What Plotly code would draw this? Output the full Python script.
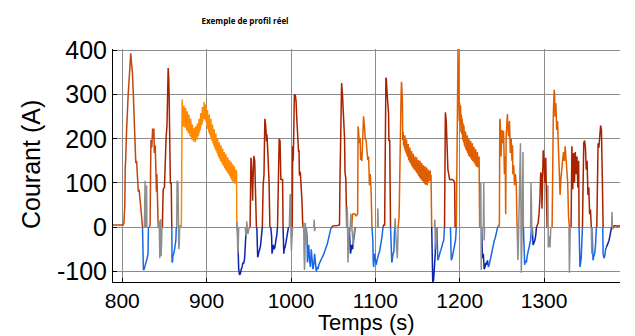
import plotly.graph_objects as go

# ---- data (time in s, current in A) ----
x_ticks = [800, 900, 1000, 1100, 1200, 1300]
y_ticks = [-100, 0, 100, 200, 300, 400]
y_tick_text = ["-100", "0", "100", "200", "300", "400"]

rust_segments = [
    [(789, 5), (795, 5), (801, 5), (802, 10), (803, 50), (803.5, 135), (804, 150), (805, 215), (806, 283),
     (807, 300), (808, 330), (809, 385), (810, 393), (811, 370), (812, 350), (813, 305), (814, 240), (815, 200),
     (816, 145), (817, 150), (818, 110), (819, 80), (820, 85), (821, 60), (822, 30), (823, 10), (824, 0)],
    [(832, 0), (833, 5), (833.5, 120), (834, 197), (835, 180), (836, 223), (837, 200), (837.5, 223), (838, 168),
     (839, 185), (840, 120), (840.5, 80), (841, 120), (842, 60), (842.6, 0)],
]

red_segments = [
    [(847.5, 0), (848, 30), (848.5, 86), (850, 90), (851, 168), (852, 205), (853, 230), (853.8, 300), (854.4, 360),
     (855, 340), (855.5, 300), (856, 230), (856.5, 150), (857, 100), (858, 100), (858.7, 0)],
    [(951.5, 0), (952, 100), (952.5, 157), (953, 150), (954, 100), (954.5, 60), (955, 110), (955.5, 157), (956, 161),
     (957, 150), (957.5, 100), (958, 60), (958.5, 30), (959, 0)],
    [(966, 0), (966.5, 80), (967, 95), (968, 119), (968.5, 200), (969, 245), (970, 230), (971, 194), (971.5, 210),
     (972, 170), (973, 150), (974, 100), (975, 0)],
    [(984, 0), (985, 100), (986, 200), (987, 195), (988, 108), (989, 108), (990, 108), (990.6, 0)],
    [(1001.5, 0), (1002, 183), (1002.5, 150), (1003, 183), (1003.5, 240), (1004, 300), (1004.5, 296), (1005, 300),
     (1006, 285), (1007, 240), (1008, 196), (1009, 170), (1009.5, 175), (1010, 117), (1011, 125), (1012, 100),
     (1013, 60), (1014, 0)],
    [(1048, 0), (1050, 3), (1055, 4), (1057.5, 5), (1058, 100), (1059, 200), (1059.5, 300), (1060, 326), (1061, 300),
     (1062, 250), (1063, 228), (1063.5, 200), (1064, 124), (1065, 110), (1065.5, 60), (1066, 0)],
    [(1109, 0), (1110, 5), (1111, 5), (1111.5, 100), (1112, 300), (1112.5, 338), (1113, 335), (1114, 300),
     (1115, 256), (1115.7, 256), (1116, 196), (1117, 196), (1117.5, 100), (1118, 0)],
    [(1182, 0), (1182.5, 200), (1183, 260), (1184, 240), (1185, 180), (1186, 130), (1187, 120), (1188, 108),
     (1191, 108), (1193, 105), (1194, 100), (1194.5, 0)],
    [(1291, 0), (1292, 5), (1293, 10), (1294, 30), (1295, 60), (1296, 124), (1297, 117), (1297.5, 42), (1298, 140),
     (1299, 174), (1300, 150), (1301, 100), (1302, 157), (1303, 80), (1303.5, 0)],
    [(1332, 0), (1332.5, 130), (1333, 183), (1334, 86), (1335, 168), (1336, 100), (1337, 170), (1338, 120),
     (1339, 160), (1340, 90), (1341, 150), (1341.5, 0)],
    [(1345.5, 0), (1346, 150), (1347, 190), (1348, 196), (1349, 180), (1350, 130), (1351, 150), (1352, 73),
     (1353, 90), (1354, 29), (1355, 40), (1356, 0)],
    [(1362.5, 0), (1363, 150), (1364, 190), (1365, 180), (1366, 200), (1367, 230), (1368, 220), (1368.5, 117),
     (1369, 117), (1370, 0)],
    [(1382, 0), (1383, 3), (1385, 3), (1387, 2), (1390, 3)],
]

orange_segments = [
    [(870, 0), (870.6, 180), (871, 289), (871.5, 235), (872, 262), (872.5, 228), (873, 275), (873.5, 240),
     (874, 258), (874.5, 225), (875, 270), (875.5, 232), (876, 250), (876.5, 218), (877, 262), (877.5, 225),
     (878, 245), (878.5, 212), (879, 255), (879.5, 215), (880, 240), (880.5, 205), (881, 245), (881.5, 208),
     (882, 228), (882.5, 198), (883, 232), (883.5, 200), (884, 220), (884.5, 194), (885, 225), (885.5, 196),
     (886, 215), (886.5, 192), (887, 228), (887.5, 200), (888, 222), (888.5, 198), (889, 235), (889.5, 205),
     (890, 230), (890.5, 208), (891, 245), (891.5, 215), (892, 240), (892.5, 220), (893, 258), (893.5, 230),
     (894, 250), (894.5, 232), (895, 272), (895.5, 240), (896, 265), (896.5, 245), (897, 283), (897.5, 250),
     (898, 272), (898.5, 242), (899, 278), (899.5, 238), (900, 262), (900.5, 228), (901, 265), (901.5, 222),
     (902, 250), (902.5, 215), (903, 255), (903.5, 210), (904, 240), (904.5, 205), (905, 245), (905.5, 200),
     (906, 228), (906.5, 195), (907, 232), (907.5, 190), (908, 218), (908.5, 185), (909, 222), (909.5, 180),
     (910, 208), (910.5, 175), (911, 212), (911.5, 172), (912, 198), (912.5, 168), (913, 200), (913.5, 162),
     (914, 188), (914.5, 158), (915, 192), (915.5, 155), (916, 180), (916.5, 150), (917, 185), (917.5, 148),
     (918, 172), (918.5, 144), (919, 178), (919.5, 140), (920, 165), (920.5, 138), (921, 170), (921.5, 134),
     (922, 160), (922.5, 130), (923, 165), (923.5, 128), (924, 152), (924.5, 125), (925, 158), (925.5, 122),
     (926, 148), (926.5, 120), (927, 152), (927.5, 116), (928, 142), (928.5, 112), (929, 148), (929.5, 108),
     (930, 138), (930.5, 105), (931, 142), (931.5, 102), (932, 130), (932.5, 100), (933, 138), (933.5, 98),
     (934, 125), (934.5, 100), (935, 130), (935.5, 120), (935.7, 0)],
]

dorange_segments = [
    [(1072, 0), (1073, 30), (1076, 30), (1077, 25), (1079, 30), (1079.5, 228), (1080, 220), (1081, 190), (1082, 200),
     (1082.5, 152), (1083, 170), (1084, 150), (1085, 200), (1086, 251), (1087, 230), (1087.5, 212), (1088, 200),
     (1089, 196), (1090, 170), (1091, 152), (1092, 160), (1093, 95), (1094, 120), (1095, 80), (1096, 0)],
    [(1127, 0), (1128, 20), (1128.5, 64), (1129, 150), (1130, 251), (1130.5, 300), (1131, 329), (1132, 290),
     (1132.5, 197), (1133, 215), (1133.5, 185), (1134, 205), (1134.5, 178), (1135, 208), (1135.5, 172),
     (1136, 195), (1136.5, 168), (1137, 198), (1137.5, 162), (1138, 185), (1138.5, 158), (1139, 188),
     (1139.5, 152), (1140, 175), (1140.5, 148), (1141, 180), (1141.5, 145), (1142, 168), (1142.5, 142),
     (1143, 172), (1143.5, 138), (1144, 162), (1144.5, 135), (1145, 166), (1145.5, 132), (1146, 155),
     (1146.5, 130), (1147, 160), (1147.5, 128), (1148, 150), (1148.5, 125), (1149, 158), (1149.5, 122),
     (1150, 148), (1150.5, 120), (1151, 152), (1151.5, 116), (1152, 142), (1152.5, 113), (1153, 150),
     (1153.5, 110), (1154, 138), (1154.5, 108), (1155, 145), (1155.5, 105), (1156, 135), (1156.5, 104),
     (1157, 140), (1157.5, 100), (1158, 130), (1158.5, 98), (1159, 138), (1159.5, 96), (1160, 125),
     (1160.5, 97), (1161, 135), (1161.5, 95), (1162, 122), (1162.5, 100), (1163, 130), (1163.5, 104),
     (1164, 120), (1164.5, 105), (1165, 128), (1165.5, 108), (1166, 118), (1166.8, 0)],
    [(1196, 0), (1196.5, 150), (1197, 350), (1197.5, 405), (1198, 405), (1198.5, 330), (1199, 300), (1199.5, 240),
     (1200, 280), (1200.5, 232), (1201, 275), (1201.5, 215), (1202, 255), (1202.5, 210), (1203, 245),
     (1203.5, 198), (1204, 235), (1204.5, 192), (1205, 230), (1205.5, 185), (1206, 218), (1206.5, 180),
     (1207, 215), (1207.5, 175), (1208, 205), (1208.5, 172), (1209, 208), (1209.5, 168), (1210, 198),
     (1210.5, 162), (1211, 200), (1211.5, 160), (1212, 190), (1212.5, 158), (1213, 195), (1213.5, 155),
     (1214, 182), (1214.5, 152), (1215, 190), (1215.5, 150), (1216, 178), (1216.5, 148), (1217, 182),
     (1217.5, 145), (1218, 172), (1218.5, 142), (1219, 176), (1219.5, 138), (1220, 165), (1220.5, 136),
     (1221, 170), (1221.5, 135), (1222, 160), (1222.5, 138), (1223, 160), (1223.6, 0)],
    [(1246.5, 0), (1247, 5), (1247.5, 245), (1248, 240), (1249, 160), (1250, 220), (1251, 190), (1252, 218),
     (1253, 120), (1254, 160), (1254.5, 29), (1255, 200), (1256, 240), (1256.6, 256), (1257, 230), (1258, 205),
     (1259, 240), (1260, 168), (1261, 200), (1262, 150), (1262.6, 185), (1263, 120), (1264, 140), (1265, 95),
     (1266, 120), (1267, 100), (1268, 0)],
    [(1309.5, 0), (1310, 150), (1310.5, 205), (1311, 260), (1312, 311), (1312.5, 300), (1313, 250), (1314, 280),
     (1315, 220), (1316, 240), (1317, 180), (1318, 120), (1319, 73), (1320, 110), (1321, 140), (1322, 152),
     (1323, 170), (1324, 150), (1325, 183), (1326, 160), (1327, 140), (1328, 100), (1329, 24), (1330, 0)],
]

blue_segments = [
    [(824, 0), (824.5, -80), (825, -97), (826, -95), (827, -85), (828, -80), (829, -75), (830, -65), (830.5, -60),
     (831, 0)],
    [(858.7, 0), (859, -80), (859.5, -78), (860, -65), (861, -60), (862, -50), (863, -40), (863.5, -30), (864, 0)],
    [(1018, 0), (1019, -20), (1019.5, -80), (1020, -60), (1021, -40), (1022, -75), (1023, -90), (1024, -50),
     (1025, -70), (1026, -95), (1027, -85), (1028, -60), (1029, -80), (1030, -100), (1031, -90), (1032, -95),
     (1033, -85), (1034, -80), (1035, -78), (1036, -72), (1037, -68), (1038, -65), (1039, -60), (1040, -55),
     (1041, -50), (1042, -45), (1043, -38), (1044, -30), (1045, -20), (1046, -12), (1047, -5), (1048, 0)],
    [(1096, 0), (1097, -30), (1097.5, -80), (1098, -90), (1099, -60), (1100, -70), (1101, -85), (1102, -75),
     (1103, -65), (1104, -60), (1105, -55), (1106, -45), (1107, -35), (1108, -20), (1109, 0)],
    [(1118, 0), (1119, -50), (1119.5, -80), (1120, -75), (1121, -60), (1122, -55), (1122.5, -20), (1123, 0)],
    [(1173, 0), (1173.5, -60), (1174, -75), (1175, -70), (1176, -60), (1177, -55), (1178, -50), (1179, -40),
     (1180, -35), (1181, -30), (1182, 0)],
    [(1189, 0), (1189.5, -60), (1190, -75), (1191, -70), (1192, -60), (1193, -55), (1194, -40), (1195, -30),
     (1196, 0)],
    [(1233, -75), (1234, -90), (1235, -85), (1236, -75), (1237, -70), (1238, -60), (1239, -50), (1240, -40),
     (1241, -30), (1242, -25), (1243, -15), (1244, -5), (1245, 0)],
    [(1275.5, 0), (1276, -50), (1277, -85), (1278, -75), (1279, -80), (1280, -65), (1281, -55), (1282, -45),
     (1283, -40), (1284, -30), (1285, 0)],
    [(1341.5, 0), (1342, -60), (1342.5, -90), (1343, -85), (1344, -70), (1345, -40), (1345.5, 0)],
    [(1357, 0), (1357.5, -60), (1358, -75), (1359, -65), (1360, -60), (1361, -40), (1362, 0)],
    [(1369.5, 0), (1370, -60), (1371, -70), (1372, -65), (1373, -50), (1374, -45)],
]

dblue_segments = [
    [(936.5, 0), (937, -60), (938, -95), (939, -108), (940, -105), (941, -95), (942, -90), (943, -80), (944, -82),
     (945, -70), (946, -30), (947, 0)],
    [(959.5, 0), (960, -40), (960.5, -68), (961, -65), (962, -55), (963, -50), (964, -40), (965, -20), (966, 0)],
    [(976, 0), (977, -20), (977.5, -60), (978, -55), (979, -40), (980, -50), (981, -45), (982, -30), (983, -20),
     (984, 0)],
    [(990.6, 0), (991, -40), (991.5, -60), (992, -50), (993, -45), (994, -35), (995, -25), (996, -10), (997, 0)],
    [(1069, 0), (1070, -40), (1070.5, -60), (1071, -55), (1072, -40), (1073, -50), (1074, -30), (1075, -20),
     (1076, 0)],
    [(1166.8, 0), (1167.5, -100), (1168, -124), (1169, -120), (1170, -95), (1171, -60), (1171.5, 0)],
    [(1226, 0), (1226.5, -50), (1227, -70), (1228, -60), (1229, -95), (1230, -90), (1231, -80), (1232, -85),
     (1233, -75)],
    [(1286, 0), (1286.5, -20), (1287, -40), (1288, -35), (1289, -30), (1290, -20), (1291, 0)],
    [(1374, -45), (1375, -40), (1376, -35), (1377, -30), (1378, -20), (1379, -10), (1380, 0)],
]

gray_segments = [
    [(826.2, 0), (826.5, 100), (827, 105), (827.3, 0)],
    [(828.5, 0), (828.8, 95), (829.2, 0)],
    [(843, 0), (843.5, 15), (844, -10), (844.5, -70), (845, -30), (845.5, 18), (846, -65), (846.5, -40), (847, 0)],
    [(864.5, 0), (865, 105), (866, 100), (866.5, -20), (867, -50), (867.5, -40), (868, 0), (869, 5)],
    [(935.7, 0), (936, 13), (936.5, -20), (937, -60), (937.5, -40), (938, 0)],
    [(945.5, 0), (946, -10), (947, -20), (947.5, 13), (948, 5), (949, -15), (950, -5), (951, 0)],
    [(998, 0), (999, 75), (999.5, 60), (1000, -20), (1000.5, -53), (1001, -30), (1002, 0)],
    [(1014.5, 0), (1015, 10), (1015.5, -60), (1016, -97), (1016.5, -70), (1017, 10), (1017.5, -40), (1018, 0)],
    [(1027, 0), (1027.5, 17), (1028, -9), (1029, 0)],
    [(1066, 0), (1066.5, 46), (1067, 20), (1067.5, -80), (1068, -30), (1069, 0), (1070, -10), (1071, 30),
     (1072, 0), (1073, -20), (1074, -40), (1075, -10), (1076, 0)],
    [(1102.5, 0), (1103, 42), (1103.5, 0)],
    [(1123, 0), (1123.5, 20), (1124, -10), (1125, -53), (1126, -70), (1126.5, -40), (1127, 0)],
    [(1170, 0), (1170.5, 17), (1171, -10), (1172, -50), (1172.5, -30), (1173, 0)],
    [(1224, 0), (1225, 100), (1225.5, -97), (1226, 0)],
    [(1228, 0), (1228.5, 100), (1229, -30), (1229.5, 0)],
    [(1245, 0), (1246, 5), (1247, 0)],
    [(1268, 0), (1268.5, -20), (1269, -75), (1269.5, -40), (1270, 0), (1272, 190), (1272.5, 60), (1273, -103),
     (1273.5, -50), (1274, 0), (1275, 170), (1275.5, 0)],
    [(1284, 0), (1284.5, 100), (1285, 60), (1285.5, -20), (1286, 0)],
    [(1304, 0), (1304.5, 95), (1305, -46), (1306, -20), (1307, -46), (1308, 0)],
    [(1329.5, 0), (1330, -103), (1330.5, -60), (1331, 0)],
    [(1356, 0), (1356.5, -60), (1357, 0)],
    [(1380, 0), (1380.5, 35), (1381, 0), (1382, -5)],
]

series = [
    ("orange", orange_segments, "#FF8A00"),
    ("dorange", dorange_segments, "#DE5E00"),
    ("rust", rust_segments, "#C2460E"),
    ("red", red_segments, "#A82200"),
    ("blue", blue_segments, "#1A68E6"),
    ("dblue", dblue_segments, "#0C24AA"),
    ("gray", gray_segments, "#8E8E8E"),
]


def flatten(segments):
    xs, ys = [], []
    for seg in segments:
        for t, i in seg:
            xs.append(t)
            ys.append(i)
        xs.append(None)
        ys.append(None)
    return xs, ys


fig = go.Figure()
for name, segs, color in series:
    xs, ys = flatten(segs)
    fig.add_trace(go.Scatter(x=xs, y=ys, mode="lines", name=name,
                             line=dict(color=color, width=1.5), connectgaps=False,
                             showlegend=False, hoverinfo="skip"))

FONT = "Liberation Sans, Arial, sans-serif"
ytick_font = dict(family=FONT, size=25, color="#000000")
xtick_font = dict(family=FONT, size=21, color="#000000")
title_font = dict(family=FONT, size=22, color="#000000")

PLOT_TOP, PLOT_BOTTOM = 49, 282
PLOT_H = PLOT_BOTTOM - PLOT_TOP

fig.update_layout(
    width=635, height=336,
    margin=dict(l=113, r=15, t=PLOT_TOP, b=336 - PLOT_BOTTOM),
    paper_bgcolor="white", plot_bgcolor="white",
    title=dict(text="<b>Exemple de profil réel</b>", x=245 / 635, xanchor="center",
               xref="container", y=1 - 21 / 336, yref="container", yanchor="middle",
               font=dict(family="Open Sans, sans-serif", size=8, color="#000000")),
    xaxis=dict(range=[789, 1390], tickvals=x_ticks, showgrid=True, gridcolor="#8c8c8c", gridwidth=1,
               showline=True, linecolor="#000000", linewidth=1, ticks="inside", ticklen=4,
               tickcolor="#000000", tickfont=xtick_font, zeroline=False, automargin=False),
    yaxis=dict(range=[-124, 403], tickvals=y_ticks, ticktext=y_tick_text, showgrid=True,
               gridcolor="#8c8c8c", gridwidth=1, showline=True, linecolor="#000000", linewidth=1,
               ticks="inside", ticklen=4, tickcolor="#000000", tickfont=ytick_font, zeroline=False,
               automargin=False),
    annotations=[
        dict(text="Temps (s)", xref="paper", yref="paper", x=0.5, y=(PLOT_BOTTOM - 336) / PLOT_H,
             xanchor="center", yanchor="bottom", showarrow=False, font=title_font, borderpad=0),
        dict(text="Courant (A)", xref="paper", yref="paper", x=(31 - 113) / 507,
             y=(PLOT_BOTTOM - 165) / PLOT_H,
             xanchor="center", yanchor="middle", textangle=-90, showarrow=False, font=ytick_font),
    ],
)

fig.write_html("out.html")
